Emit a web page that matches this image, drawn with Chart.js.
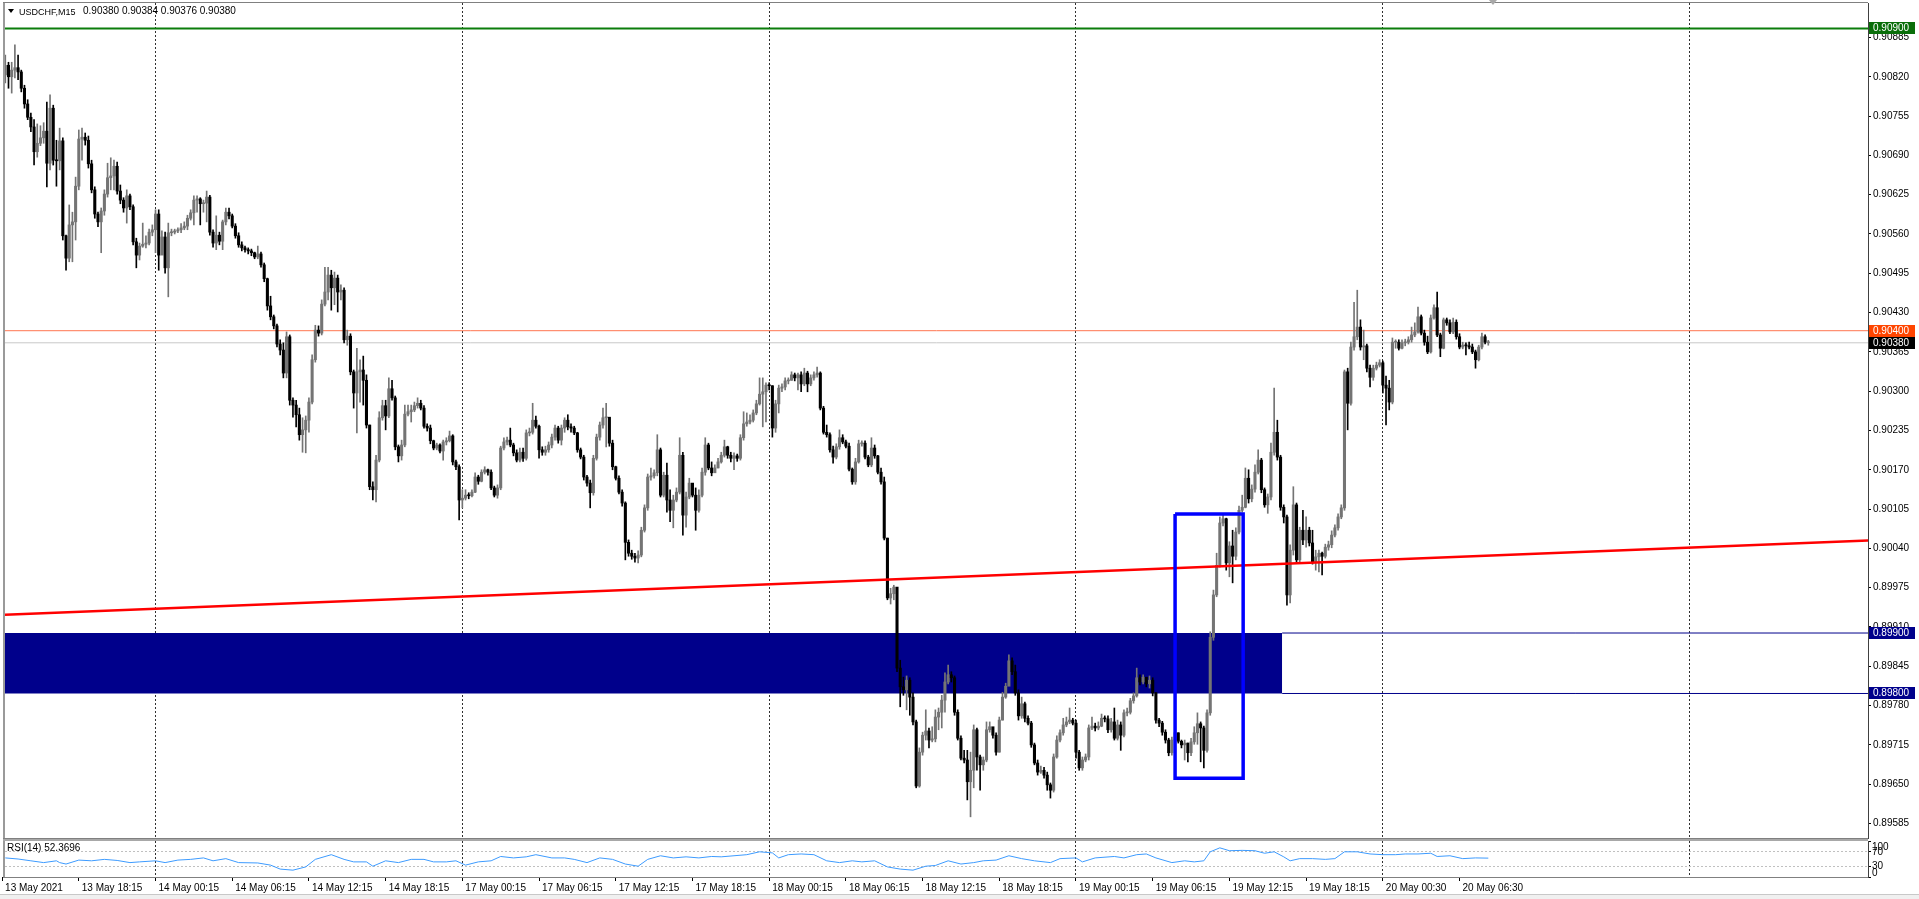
<!DOCTYPE html>
<html><head><meta charset="utf-8">
<script src="https://cdn.jsdelivr.net/npm/chart.js@4.4.1/dist/chart.umd.min.js"></script>
<style>
html,body{margin:0;padding:0;background:#fff;width:1919px;height:899px;overflow:hidden;font-family:"Liberation Sans",Arial,sans-serif;}
#main{position:absolute;left:0;top:0;}
#rsi{position:absolute;left:0;top:839px;}
.txt{position:absolute;color:#000;white-space:pre;z-index:3;line-height:12px;}
#tri{position:absolute;left:8px;top:9px;width:0;height:0;border-left:3.5px solid transparent;border-right:3.5px solid transparent;border-top:4px solid #000;z-index:3;}
#shift{position:absolute;left:1489px;top:0;width:0;height:0;border-left:4px solid transparent;border-right:4px solid transparent;border-top:5px solid #a8a8a8;z-index:3;}
#bottombar{position:absolute;left:0;top:894px;width:1919px;height:5px;background:#f0f0f0;border-top:1px solid #c8c8c8;z-index:3;}
</style></head>
<body>
<canvas id="main" width="1919" height="839"></canvas>
<canvas id="rsi" width="1919" height="60"></canvas>
<div id="tri"></div>
<div class="txt" style="left:19px;top:6px;font-size:9px;">USDCHF,M15</div>
<div class="txt" style="left:83px;top:5px;font-size:10px;">0.90380 0.90384 0.90376 0.90380</div>
<div class="txt" style="left:7px;top:842px;font-size:10px;">RSI(14) 52.3696</div>
<div id="shift"></div>
<div id="bottombar"></div>
<script>
// ---------- DATA (USDCHF M15, bar index 0 = first visible bar) ----------
const opens = [
0.90831,0.90823,0.90839,0.90820,0.90831,0.90835,0.90828,0.90801,0.90775,0.90753,
0.90737,0.90696,0.90710,0.90719,0.90730,0.90677,0.90768,0.90682,0.90681,0.90714,
0.90557,0.90520,0.90575,0.90580,0.90639,0.90717,0.90720,0.90715,0.90676,0.90633,
0.90593,0.90580,0.90598,0.90626,0.90653,0.90656,0.90672,0.90631,0.90616,0.90603,
0.90623,0.90605,0.90547,0.90525,0.90540,0.90543,0.90545,0.90563,0.90567,0.90593,
0.90525,0.90555,0.90504,0.90562,0.90563,0.90565,0.90567,0.90570,0.90573,0.90586,
0.90595,0.90616,0.90618,0.90610,0.90611,0.90621,0.90563,0.90545,0.90558,0.90548,
0.90580,0.90596,0.90590,0.90573,0.90557,0.90542,0.90537,0.90534,0.90532,0.90529,
0.90522,0.90527,0.90509,0.90486,0.90441,0.90423,0.90408,0.90378,0.90368,0.90330,
0.90390,0.90285,0.90277,0.90261,0.90228,0.90236,0.90252,0.90282,0.90352,0.90401,
0.90396,0.90444,0.90464,0.90492,0.90471,0.90487,0.90464,0.90467,0.90385,0.90391,
0.90332,0.90297,0.90332,0.90335,0.90318,0.90244,0.90142,0.90137,0.90186,0.90256,
0.90276,0.90259,0.90304,0.90289,0.90208,0.90193,0.90211,0.90262,0.90266,0.90269,
0.90276,0.90280,0.90272,0.90242,0.90239,0.90218,0.90206,0.90211,0.90201,0.90216,
0.90218,0.90226,0.90183,0.90175,0.90120,0.90123,0.90128,0.90127,0.90133,0.90158,
0.90151,0.90166,0.90170,0.90166,0.90140,0.90128,0.90140,0.90206,0.90216,0.90219,
0.90211,0.90198,0.90186,0.90199,0.90189,0.90231,0.90232,0.90252,0.90242,0.90203,
0.90199,0.90203,0.90211,0.90224,0.90239,0.90219,0.90239,0.90252,0.90241,0.90239,
0.90231,0.90203,0.90191,0.90158,0.90148,0.90132,0.90189,0.90224,0.90244,0.90256,
0.90257,0.90214,0.90175,0.90156,0.90133,0.90115,0.90050,0.90032,0.90027,0.90024,
0.90029,0.90070,0.90107,0.90158,0.90160,0.90165,0.90203,0.90128,0.90161,0.90120,
0.90103,0.90120,0.90133,0.90194,0.90095,0.90125,0.90148,0.90128,0.90103,0.90128,
0.90166,0.90211,0.90173,0.90165,0.90173,0.90183,0.90194,0.90208,0.90194,0.90189,
0.90193,0.90189,0.90223,0.90246,0.90249,0.90252,0.90264,0.90279,0.90295,0.90299,
0.90310,0.90309,0.90239,0.90279,0.90305,0.90307,0.90317,0.90318,0.90327,0.90322,
0.90327,0.90312,0.90330,0.90312,0.90322,0.90327,0.90330,0.90272,0.90232,0.90228,
0.90203,0.90191,0.90208,0.90223,0.90216,0.90209,0.90171,0.90150,0.90183,0.90213,
0.90214,0.90191,0.90178,0.90206,0.90193,0.90166,0.90150,0.90057,0.89958,0.89965,
0.89976,0.89842,0.89811,0.89806,0.89822,0.89794,0.89753,0.89647,0.89703,0.89731,
0.89738,0.89723,0.89725,0.89761,0.89769,0.89789,0.89819,0.89831,0.89826,0.89769,
0.89726,0.89693,0.89690,0.89654,0.89673,0.89740,0.89695,0.89682,0.89690,0.89740,
0.89745,0.89731,0.89703,0.89756,0.89794,0.89812,0.89854,0.89836,0.89801,0.89763,
0.89783,0.89759,0.89751,0.89715,0.89685,0.89670,0.89673,0.89665,0.89649,0.89640,
0.89695,0.89723,0.89735,0.89748,0.89753,0.89756,0.89751,0.89703,0.89677,0.89690,
0.89695,0.89743,0.89746,0.89743,0.89746,0.89759,0.89758,0.89740,0.89753,0.89726,
0.89748,0.89731,0.89768,0.89769,0.89788,0.89796,0.89826,0.89819,0.89827,0.89816,
0.89822,0.89801,0.89756,0.89751,0.89736,0.89723,0.89702,0.89723,0.89735,0.89721,
0.89715,0.89718,0.89702,0.89720,0.89735,0.89750,0.89743,0.89706,0.89768,0.89893,
0.89963,0.90012,0.90082,0.90089,0.90016,0.90044,0.90027,0.90067,0.90103,0.90108,
0.90156,0.90122,0.90138,0.90166,0.90186,0.90137,0.90112,0.90125,0.90199,0.90232,
0.90191,0.90108,0.90092,0.89963,0.90037,0.90112,0.90021,0.90070,0.90054,0.90070,
0.90049,0.90017,0.90026,0.90032,0.90027,0.90042,0.90046,0.90062,0.90074,0.90092,
0.90107,0.90332,0.90280,0.90373,0.90390,0.90406,0.90373,0.90375,0.90338,0.90323,
0.90338,0.90343,0.90347,0.90310,0.90305,0.90282,0.90381,0.90381,0.90371,0.90380,
0.90381,0.90385,0.90393,0.90398,0.90423,0.90396,0.90381,0.90365,0.90421,0.90438,
0.90393,0.90371,0.90418,0.90413,0.90398,0.90414,0.90390,0.90373,0.90376,0.90375,
0.90373,0.90365,0.90352,0.90373,0.90390,0.90380];
const highs = [
0.90844,0.90856,0.90844,0.90844,0.90873,0.90856,0.90831,0.90806,0.90782,0.90760,
0.90749,0.90742,0.90739,0.90744,0.90778,0.90790,0.90773,0.90715,0.90735,0.90719,
0.90558,0.90608,0.90596,0.90654,0.90732,0.90735,0.90727,0.90722,0.90682,0.90638,
0.90596,0.90603,0.90633,0.90677,0.90686,0.90682,0.90679,0.90641,0.90620,0.90633,
0.90626,0.90608,0.90553,0.90545,0.90578,0.90557,0.90568,0.90575,0.90600,0.90600,
0.90565,0.90563,0.90578,0.90568,0.90568,0.90570,0.90577,0.90580,0.90591,0.90600,
0.90623,0.90623,0.90620,0.90616,0.90631,0.90624,0.90567,0.90590,0.90563,0.90583,
0.90603,0.90603,0.90593,0.90577,0.90562,0.90547,0.90540,0.90537,0.90535,0.90530,
0.90540,0.90530,0.90512,0.90487,0.90457,0.90426,0.90411,0.90385,0.90380,0.90398,
0.90393,0.90289,0.90285,0.90272,0.90256,0.90259,0.90289,0.90360,0.90409,0.90408,
0.90451,0.90505,0.90505,0.90500,0.90497,0.90492,0.90476,0.90471,0.90401,0.90395,
0.90335,0.90371,0.90352,0.90358,0.90327,0.90244,0.90150,0.90194,0.90266,0.90285,
0.90285,0.90322,0.90318,0.90292,0.90211,0.90219,0.90277,0.90277,0.90277,0.90282,
0.90289,0.90285,0.90276,0.90246,0.90244,0.90219,0.90214,0.90213,0.90219,0.90223,
0.90234,0.90228,0.90186,0.90178,0.90137,0.90137,0.90132,0.90137,0.90165,0.90161,
0.90170,0.90175,0.90171,0.90170,0.90143,0.90145,0.90209,0.90223,0.90224,0.90239,
0.90214,0.90203,0.90206,0.90206,0.90236,0.90239,0.90280,0.90259,0.90244,0.90208,
0.90209,0.90216,0.90229,0.90244,0.90242,0.90244,0.90256,0.90261,0.90246,0.90242,
0.90232,0.90206,0.90194,0.90161,0.90153,0.90194,0.90229,0.90249,0.90272,0.90280,
0.90256,0.90219,0.90176,0.90160,0.90137,0.90117,0.90054,0.90037,0.90032,0.90036,
0.90075,0.90112,0.90163,0.90173,0.90170,0.90228,0.90206,0.90166,0.90181,0.90137,
0.90128,0.90140,0.90223,0.90199,0.90133,0.90156,0.90145,0.90140,0.90137,0.90173,
0.90223,0.90214,0.90183,0.90178,0.90189,0.90199,0.90219,0.90209,0.90199,0.90198,
0.90196,0.90228,0.90266,0.90264,0.90261,0.90269,0.90285,0.90322,0.90322,0.90314,
0.90314,0.90309,0.90285,0.90310,0.90312,0.90322,0.90322,0.90332,0.90330,0.90330,
0.90332,0.90338,0.90333,0.90327,0.90332,0.90340,0.90332,0.90275,0.90244,0.90231,
0.90209,0.90213,0.90236,0.90228,0.90219,0.90214,0.90173,0.90189,0.90219,0.90218,
0.90218,0.90194,0.90223,0.90211,0.90194,0.90173,0.90158,0.90057,0.89974,0.89979,
0.89974,0.89855,0.89827,0.89829,0.89826,0.89801,0.89756,0.89710,0.89736,0.89773,
0.89743,0.89745,0.89773,0.89776,0.89797,0.89834,0.89847,0.89836,0.89829,0.89773,
0.89730,0.89706,0.89706,0.89703,0.89748,0.89743,0.89698,0.89695,0.89753,0.89753,
0.89743,0.89735,0.89761,0.89802,0.89817,0.89864,0.89859,0.89847,0.89806,0.89794,
0.89786,0.89763,0.89754,0.89718,0.89690,0.89680,0.89678,0.89670,0.89652,0.89700,
0.89730,0.89740,0.89759,0.89761,0.89776,0.89759,0.89756,0.89706,0.89695,0.89700,
0.89748,0.89761,0.89751,0.89753,0.89766,0.89763,0.89763,0.89759,0.89776,0.89756,
0.89753,0.89773,0.89776,0.89792,0.89801,0.89842,0.89831,0.89831,0.89826,0.89829,
0.89826,0.89802,0.89759,0.89754,0.89740,0.89726,0.89728,0.89740,0.89735,0.89723,
0.89723,0.89718,0.89726,0.89745,0.89768,0.89753,0.89746,0.89773,0.89902,0.89971,
0.90032,0.90092,0.90097,0.90090,0.90051,0.90070,0.90074,0.90110,0.90128,0.90173,
0.90170,0.90145,0.90178,0.90203,0.90189,0.90140,0.90130,0.90214,0.90305,0.90252,
0.90194,0.90112,0.90095,0.90046,0.90142,0.90115,0.90075,0.90103,0.90092,0.90075,
0.90070,0.90037,0.90037,0.90034,0.90047,0.90052,0.90069,0.90079,0.90097,0.90112,
0.90335,0.90338,0.90381,0.90447,0.90467,0.90418,0.90401,0.90378,0.90343,0.90343,
0.90348,0.90352,0.90350,0.90325,0.90318,0.90388,0.90385,0.90385,0.90385,0.90386,
0.90390,0.90406,0.90413,0.90439,0.90426,0.90401,0.90391,0.90426,0.90443,0.90464,
0.90396,0.90421,0.90421,0.90418,0.90421,0.90418,0.90395,0.90381,0.90380,0.90381,
0.90378,0.90368,0.90376,0.90396,0.90393,0.90384];
const lows = [
0.90806,0.90810,0.90801,0.90793,0.90818,0.90815,0.90795,0.90768,0.90749,0.90729,
0.90674,0.90687,0.90706,0.90710,0.90638,0.90666,0.90674,0.90639,0.90666,0.90550,
0.90500,0.90514,0.90514,0.90550,0.90633,0.90682,0.90707,0.90669,0.90628,0.90586,
0.90572,0.90529,0.90591,0.90621,0.90633,0.90633,0.90626,0.90610,0.90596,0.90578,
0.90600,0.90542,0.90504,0.90517,0.90538,0.90537,0.90542,0.90557,0.90529,0.90500,
0.90534,0.90495,0.90456,0.90557,0.90560,0.90562,0.90562,0.90567,0.90567,0.90583,
0.90575,0.90596,0.90575,0.90596,0.90580,0.90558,0.90538,0.90534,0.90542,0.90534,
0.90575,0.90585,0.90570,0.90553,0.90538,0.90532,0.90530,0.90527,0.90524,0.90519,
0.90519,0.90505,0.90481,0.90434,0.90418,0.90403,0.90373,0.90360,0.90322,0.90322,
0.90277,0.90257,0.90241,0.90219,0.90199,0.90198,0.90232,0.90279,0.90348,0.90391,
0.90393,0.90441,0.90451,0.90434,0.90443,0.90431,0.90451,0.90380,0.90376,0.90327,
0.90272,0.90231,0.90282,0.90277,0.90239,0.90137,0.90120,0.90117,0.90183,0.90252,
0.90236,0.90256,0.90285,0.90203,0.90183,0.90186,0.90208,0.90259,0.90249,0.90266,
0.90272,0.90269,0.90239,0.90234,0.90213,0.90203,0.90203,0.90198,0.90186,0.90211,
0.90216,0.90178,0.90170,0.90087,0.90107,0.90120,0.90122,0.90125,0.90132,0.90146,
0.90150,0.90163,0.90161,0.90137,0.90125,0.90123,0.90137,0.90203,0.90211,0.90208,
0.90193,0.90183,0.90183,0.90184,0.90186,0.90226,0.90229,0.90239,0.90189,0.90194,
0.90194,0.90199,0.90206,0.90219,0.90214,0.90211,0.90232,0.90236,0.90232,0.90228,
0.90199,0.90188,0.90153,0.90143,0.90107,0.90128,0.90186,0.90219,0.90239,0.90208,
0.90209,0.90170,0.90153,0.90130,0.90110,0.90021,0.90027,0.90022,0.90017,0.90016,
0.90026,0.90067,0.90103,0.90153,0.90156,0.90160,0.90125,0.90125,0.90100,0.90084,
0.90074,0.90117,0.90130,0.90062,0.90075,0.90122,0.90125,0.90070,0.90100,0.90125,
0.90161,0.90170,0.90160,0.90166,0.90173,0.90181,0.90191,0.90189,0.90183,0.90170,
0.90184,0.90186,0.90219,0.90242,0.90246,0.90249,0.90261,0.90277,0.90241,0.90249,
0.90302,0.90224,0.90232,0.90264,0.90299,0.90302,0.90312,0.90318,0.90317,0.90302,
0.90299,0.90309,0.90299,0.90309,0.90318,0.90323,0.90269,0.90229,0.90224,0.90199,
0.90181,0.90188,0.90204,0.90213,0.90206,0.90168,0.90146,0.90146,0.90181,0.90209,
0.90188,0.90175,0.90175,0.90189,0.90163,0.90146,0.90054,0.89955,0.89948,0.89955,
0.89836,0.89778,0.89797,0.89773,0.89764,0.89748,0.89644,0.89645,0.89698,0.89723,
0.89710,0.89720,0.89720,0.89740,0.89743,0.89769,0.89816,0.89819,0.89764,0.89723,
0.89690,0.89685,0.89624,0.89596,0.89644,0.89673,0.89640,0.89673,0.89687,0.89736,
0.89726,0.89698,0.89703,0.89756,0.89792,0.89816,0.89831,0.89797,0.89756,0.89759,
0.89753,0.89748,0.89711,0.89682,0.89665,0.89668,0.89660,0.89640,0.89627,0.89637,
0.89693,0.89720,0.89731,0.89745,0.89750,0.89748,0.89693,0.89673,0.89673,0.89687,
0.89690,0.89740,0.89738,0.89740,0.89745,0.89753,0.89735,0.89736,0.89723,0.89723,
0.89706,0.89728,0.89763,0.89766,0.89784,0.89794,0.89814,0.89816,0.89811,0.89809,
0.89796,0.89751,0.89745,0.89731,0.89718,0.89697,0.89698,0.89710,0.89718,0.89710,
0.89690,0.89687,0.89697,0.89716,0.89716,0.89687,0.89677,0.89703,0.89764,0.89888,
0.89960,0.90009,0.90077,0.90004,0.89993,0.89983,0.90021,0.90064,0.90100,0.90107,
0.90115,0.90117,0.90133,0.90163,0.90132,0.90108,0.90098,0.90120,0.90194,0.90186,
0.90103,0.90082,0.89946,0.89950,0.90029,0.90017,0.90017,0.90046,0.90042,0.90044,
0.90014,0.90004,0.90001,0.89996,0.90024,0.90037,0.90041,0.90059,0.90070,0.90089,
0.90103,0.90236,0.90277,0.90368,0.90385,0.90368,0.90352,0.90332,0.90307,0.90318,
0.90335,0.90340,0.90297,0.90244,0.90269,0.90279,0.90371,0.90368,0.90370,0.90375,
0.90378,0.90381,0.90390,0.90396,0.90393,0.90376,0.90362,0.90363,0.90419,0.90390,
0.90357,0.90370,0.90409,0.90395,0.90395,0.90386,0.90370,0.90370,0.90360,0.90370,
0.90362,0.90338,0.90350,0.90370,0.90378,0.90376];
const closes = [
0.90823,0.90839,0.90820,0.90831,0.90835,0.90828,0.90801,0.90775,0.90753,0.90737,
0.90696,0.90710,0.90719,0.90730,0.90677,0.90768,0.90682,0.90681,0.90714,0.90557,
0.90520,0.90575,0.90580,0.90639,0.90717,0.90720,0.90715,0.90676,0.90633,0.90593,
0.90580,0.90598,0.90626,0.90653,0.90656,0.90672,0.90631,0.90616,0.90603,0.90623,
0.90605,0.90547,0.90525,0.90540,0.90543,0.90545,0.90563,0.90567,0.90593,0.90525,
0.90555,0.90504,0.90562,0.90563,0.90565,0.90567,0.90570,0.90573,0.90586,0.90595,
0.90616,0.90618,0.90610,0.90611,0.90621,0.90563,0.90545,0.90558,0.90548,0.90580,
0.90596,0.90590,0.90573,0.90557,0.90542,0.90537,0.90534,0.90532,0.90529,0.90522,
0.90527,0.90509,0.90486,0.90441,0.90423,0.90408,0.90378,0.90368,0.90330,0.90390,
0.90285,0.90277,0.90261,0.90228,0.90236,0.90252,0.90282,0.90352,0.90401,0.90396,
0.90444,0.90464,0.90492,0.90471,0.90487,0.90464,0.90467,0.90385,0.90391,0.90332,
0.90297,0.90332,0.90335,0.90318,0.90244,0.90142,0.90137,0.90186,0.90256,0.90276,
0.90259,0.90304,0.90289,0.90208,0.90193,0.90211,0.90262,0.90266,0.90269,0.90276,
0.90280,0.90272,0.90242,0.90239,0.90218,0.90206,0.90211,0.90201,0.90216,0.90218,
0.90226,0.90183,0.90175,0.90120,0.90123,0.90128,0.90127,0.90133,0.90158,0.90151,
0.90166,0.90170,0.90166,0.90140,0.90128,0.90140,0.90206,0.90216,0.90219,0.90211,
0.90198,0.90186,0.90199,0.90189,0.90231,0.90232,0.90252,0.90242,0.90203,0.90199,
0.90203,0.90211,0.90224,0.90239,0.90219,0.90239,0.90252,0.90241,0.90239,0.90231,
0.90203,0.90191,0.90158,0.90148,0.90132,0.90189,0.90224,0.90244,0.90256,0.90257,
0.90214,0.90175,0.90156,0.90133,0.90115,0.90050,0.90032,0.90027,0.90024,0.90029,
0.90070,0.90107,0.90158,0.90160,0.90165,0.90203,0.90128,0.90161,0.90120,0.90103,
0.90120,0.90133,0.90194,0.90095,0.90125,0.90148,0.90128,0.90103,0.90128,0.90166,
0.90211,0.90173,0.90165,0.90173,0.90183,0.90194,0.90208,0.90194,0.90189,0.90193,
0.90189,0.90223,0.90246,0.90249,0.90252,0.90264,0.90279,0.90295,0.90299,0.90310,
0.90309,0.90239,0.90279,0.90305,0.90307,0.90317,0.90318,0.90327,0.90322,0.90327,
0.90312,0.90330,0.90312,0.90322,0.90327,0.90330,0.90272,0.90232,0.90228,0.90203,
0.90191,0.90208,0.90223,0.90216,0.90209,0.90171,0.90150,0.90183,0.90213,0.90214,
0.90191,0.90178,0.90206,0.90193,0.90166,0.90150,0.90057,0.89958,0.89965,0.89976,
0.89842,0.89811,0.89806,0.89822,0.89794,0.89753,0.89647,0.89703,0.89731,0.89738,
0.89723,0.89725,0.89761,0.89769,0.89789,0.89819,0.89831,0.89826,0.89769,0.89726,
0.89693,0.89690,0.89654,0.89673,0.89740,0.89695,0.89682,0.89690,0.89740,0.89745,
0.89731,0.89703,0.89756,0.89794,0.89812,0.89854,0.89836,0.89801,0.89763,0.89783,
0.89759,0.89751,0.89715,0.89685,0.89670,0.89673,0.89665,0.89649,0.89640,0.89695,
0.89723,0.89735,0.89748,0.89753,0.89756,0.89751,0.89703,0.89677,0.89690,0.89695,
0.89743,0.89746,0.89743,0.89746,0.89759,0.89758,0.89740,0.89753,0.89726,0.89748,
0.89731,0.89768,0.89769,0.89788,0.89796,0.89826,0.89819,0.89827,0.89816,0.89822,
0.89801,0.89756,0.89751,0.89736,0.89723,0.89702,0.89723,0.89735,0.89721,0.89715,
0.89718,0.89702,0.89720,0.89735,0.89750,0.89743,0.89706,0.89768,0.89893,0.89963,
0.90012,0.90082,0.90089,0.90016,0.90044,0.90027,0.90067,0.90103,0.90108,0.90156,
0.90122,0.90138,0.90166,0.90186,0.90137,0.90112,0.90125,0.90199,0.90232,0.90191,
0.90108,0.90092,0.89963,0.90037,0.90112,0.90021,0.90070,0.90054,0.90070,0.90049,
0.90017,0.90026,0.90032,0.90027,0.90042,0.90046,0.90062,0.90074,0.90092,0.90107,
0.90332,0.90280,0.90373,0.90390,0.90406,0.90373,0.90375,0.90338,0.90323,0.90338,
0.90343,0.90347,0.90310,0.90305,0.90282,0.90381,0.90381,0.90371,0.90380,0.90381,
0.90385,0.90393,0.90398,0.90423,0.90396,0.90381,0.90365,0.90421,0.90438,0.90393,
0.90371,0.90418,0.90413,0.90398,0.90414,0.90390,0.90373,0.90376,0.90375,0.90373,
0.90365,0.90352,0.90373,0.90390,0.90381,0.90380];

// price axis tick labels
const priceTicks = [0.89585,0.89650,0.89715,0.89780,0.89845,0.89910,0.89975,0.90040,0.90105,0.90170,
  0.90235,0.90300,0.90365,0.90430,0.90495,0.90560,0.90625,0.90690,0.90755,0.90820,0.90885];
// time axis labels (bar index of each label)
const labelBars = [0,24,48,72,96,120,144,168,192,216,240,264,288,312,336,360,384,408,432,456];
const xLabels = ['13 May 2021','13 May 18:15','14 May 00:15','14 May 06:15','14 May 12:15','14 May 18:15',
  '17 May 00:15','17 May 06:15','17 May 12:15','17 May 18:15','18 May 00:15','18 May 06:15','18 May 12:15',
  '18 May 18:15','19 May 00:15','19 May 06:15','19 May 12:15','19 May 18:15','20 May 00:30','20 May 06:30'];
const gridBars = [48,144,240,336,432,528];
// horizontal levels: green, orange, bid, zone top, zone bottom
const levelPrices = [0.90900, 0.90400, 0.90380, 0.89900, 0.89800];
const levelTagColors = ['#0a6e0a','#ff4500','#000000','#00008b','#00008b'];
// supply/demand zone (bar range, price range)
const zoneBars = [-3, 400.5];
const zonePrices = [0.89900, 0.89800];
// red trend line anchors
const trendBars = [0, 584];
const trendPrices = [0.89930, 0.90053];
// blue box
const boxBars = [367, 388.3];
const boxPrices = [0.90097, 0.89660];
// RSI(14) readings
const rsiBars = [1,5,9,13,17,18,20,24,28,32,36,40,43,48,51,55,59,63,66,70,74,80,84,87,91,95,98,
 103,107,110,114,116,120,124,128,132,135,139,142,145,149,153,156,160,164,167,172,176,179,183,187,191,195,199,202,206,210,
 214,218,222,225,229,233,237,241,243,246,250,254,258,262,266,269,273,277,281,285,289,292,296,300,304,307,311,315,319,323,
 328,331,336,338,342,348,351,355,358,361,366,370,373,376,378,381,384,388,392,395,398,401,403,406,410,414,417,420,424,428,
 432,436,439,443,447,449,453,457,461,465];
const rsiValues = [53,50,45,40,45,40,36,47,45,49,46,40,42,45,40,47,49,53,45,51,40,39,33,22,19,28,49,
 62,49,42,42,30,45,40,49,49,42,42,45,33,42,45,57,53,56,62,53,53,49,40,53,49,36,30,49,59,53,
 56,53,57,56,59,62,70,67,53,62,64,62,45,40,45,42,45,28,22,19,30,32,45,36,40,45,47,59,51,45,
 40,51,53,42,53,57,53,62,64,53,40,45,42,45,70,81,73,74,73,66,70,56,45,51,51,49,51,70,70,64,
 62,62,64,64,66,57,59,51,53,52.4];
const rsiLevels = [0,30,70,100];

// ---------- VIEW ----------
const X_MIN = 0.907, X_MAX = 583.8;
const Y_MIN = 0.89561, Y_MAX = 0.90942;
const FONT = 'Liberation Sans';
const BULL = '#747474', BEAR = '#000000';

const bull = closes.map((c, i) => c >= opens[i]);
const bodies = closes.map((c, i) => ({x: i, y: [opens[i], c]}));
const wicks = highs.map((h, i) => ({x: i, y: [lows[i], h]}));
const candleColors = bull.map(b => b ? BULL : BEAR);

function hLine(p, x0, x1, color, w) {
  return {type:'line', data:[{x:x0, y:p},{x:x1, y:p}], borderColor:color, borderWidth:w,
          pointRadius:0, fill:false, order:9};
}

const mainDecor = {
  id:'mainDecor',
  afterDraw(chart) {
    const ctx = chart.ctx, ca = chart.chartArea, ys = chart.scales.y;
    ctx.save();
    ctx.fillStyle = '#9a9a9a';
    ctx.fillRect(3, ca.top - 1, 2, ca.bottom - ca.top + 2);
    ctx.fillStyle = '#808080';
    ctx.fillRect(3, ca.top - 1, ca.right - 3, 1);
    ctx.fillRect(3, ca.bottom, ca.right - 3, 1);
    ctx.font = '10px "' + FONT + '"';
    ctx.textBaseline = 'middle';
    ctx.textAlign = 'left';
    levelPrices.forEach((p, i) => {
      const y = Math.round(ys.getPixelForValue(p));
      ctx.fillStyle = levelTagColors[i];
      ctx.fillRect(ca.right + 1, y - 6, 46, 12);
      ctx.fillStyle = '#ffffff';
      ctx.fillText(p.toFixed(5), ca.right + 5, y + 0.5);
    });
    ctx.restore();
  }
};

new Chart(document.getElementById('main'), {
  type:'bar',
  data:{ datasets:[
    {type:'line', data:[{x:zoneBars[0], y:zonePrices[0]},{x:zoneBars[1], y:zonePrices[0]}],
      borderColor:'transparent', borderWidth:0, pointRadius:0, fill:'+1', backgroundColor:'#00008b', order:10},
    {type:'line', data:[{x:zoneBars[0], y:zonePrices[1]},{x:zoneBars[1], y:zonePrices[1]}],
      borderColor:'transparent', borderWidth:0, pointRadius:0, fill:false, order:10},
    hLine(levelPrices[0], X_MIN, X_MAX, '#0b7d0b', 2),
    hLine(levelPrices[1], X_MIN, X_MAX, '#ff7650', 1),
    hLine(levelPrices[2], X_MIN, X_MAX, '#c8c8c8', 1),
    hLine(levelPrices[3], zoneBars[1], X_MAX, '#00008b', 1),
    hLine(levelPrices[4], zoneBars[1], X_MAX, '#00008b', 1),
    {type:'bar', data:wicks, backgroundColor:candleColors, barThickness:1, grouped:false, borderWidth:0, order:6},
    {type:'bar', data:bodies, backgroundColor:candleColors, barThickness:2.4, grouped:false, borderWidth:0, minBarLength:1, order:5},
    {type:'line', data:[{x:trendBars[0], y:trendPrices[0]},{x:trendBars[1], y:trendPrices[1]}],
      borderColor:'#ff0000', borderWidth:2.5, pointRadius:0, fill:false, order:2},
    {type:'line', data:[{x:boxBars[0], y:boxPrices[0]},{x:boxBars[1], y:boxPrices[0]},{x:boxBars[1], y:boxPrices[1]},
      {x:boxBars[0], y:boxPrices[1]},{x:boxBars[0], y:boxPrices[0]}],
      borderColor:'#0000ff', borderWidth:3.5, borderJoinStyle:'miter', pointRadius:0, fill:false, order:1}
  ]},
  options:{
    responsive:false, animation:false, devicePixelRatio:1, events:[],
    layout:{padding:{left:5, top:3, right:0, bottom:1}},
    plugins:{legend:{display:false}, tooltip:{enabled:false}},
    scales:{
      x:{type:'linear', min:X_MIN, max:X_MAX, offset:false, position:'bottom',
        afterBuildTicks:s => { s.ticks = gridBars.map(v => ({value:v})); },
        afterFit:s => { s.height = 0; s.paddingLeft = 0; s.paddingRight = 0; },
        ticks:{display:false},
        grid:{offset:false, color:'#303030', lineWidth:1, drawTicks:false, drawOnChartArea:true},
        border:{display:false, dash:[2,2]}},
      y:{type:'linear', position:'right', min:Y_MIN, max:Y_MAX,
        afterBuildTicks:s => { s.ticks = priceTicks.map(v => ({value:v})); },
        afterFit:s => { s.width = 51; s.paddingTop = 0; s.paddingBottom = 0; },
        ticks:{callback:v => Number(v).toFixed(5), font:{family:FONT, size:10}, color:'#000', padding:2, autoSkip:false},
        grid:{drawOnChartArea:false, drawTicks:true, tickLength:3, tickColor:'#000'},
        border:{display:true, color:'#404040'}}
    }
  },
  plugins:[mainDecor]
});

// ---------- RSI panel ----------
const rsiDecor = {
  id:'rsiDecor',
  afterDraw(chart) {
    const ctx = chart.ctx, ca = chart.chartArea, ys = chart.scales.y;
    ctx.save();
    ctx.fillStyle = '#a8a8a8';
    ctx.fillRect(3, 0, ca.right - 3, 2);
    ctx.fillStyle = '#9a9a9a';
    ctx.fillRect(3, ca.top, 2, ca.bottom - ca.top);
    ctx.fillStyle = '#808080';
    ctx.fillRect(3, ca.bottom, ca.right - 3, 1);
    ctx.font = '10px "' + FONT + '"';
    ctx.textBaseline = 'middle';
    ctx.fillStyle = '#000';
    rsiLevels.forEach(v => {
      let y = ys.getPixelForValue(v);
      y = Math.min(Math.max(y, ca.top + 6), ca.bottom - 4);
      ctx.fillText(String(v), ca.right + 4, y);
    });
    ctx.restore();
  }
};

new Chart(document.getElementById('rsi'), {
  type:'line',
  data:{ datasets:[
    {data:rsiBars.map((b, i) => ({x:b, y:rsiValues[i]})), borderColor:'#3d9bff', borderWidth:1,
     pointRadius:0, fill:false, tension:0}
  ]},
  options:{
    responsive:false, animation:false, devicePixelRatio:1, events:[],
    layout:{padding:{left:5, top:2, right:0, bottom:0}},
    plugins:{legend:{display:false}, tooltip:{enabled:false}},
    scales:{
      x:{type:'linear', min:X_MIN, max:X_MAX, offset:false, position:'bottom',
        afterBuildTicks:s => { s.ticks = labelBars.map(v => ({value:v})); },
        afterFit:s => { s.height = 22; s.paddingLeft = 0; s.paddingRight = 0; },
        ticks:{callback:(v, i) => xLabels[i], align:'start', labelOffset:3, padding:1, maxRotation:0,
          autoSkip:false, font:{family:FONT, size:10}, color:'#000'},
        grid:{offset:false, drawOnChartArea:false, drawTicks:true, tickLength:4, tickColor:'#000'},
        border:{display:false}},
      xg:{type:'linear', min:X_MIN, max:X_MAX, offset:false, position:'bottom',
        afterBuildTicks:s => { s.ticks = gridBars.map(v => ({value:v})); },
        afterFit:s => { s.height = 0; s.paddingLeft = 0; s.paddingRight = 0; },
        ticks:{display:false},
        grid:{offset:false, color:'#303030', lineWidth:1, drawTicks:false, drawOnChartArea:true},
        border:{display:false, dash:[2,2]}},
      y:{type:'linear', position:'right', min:0, max:100,
        afterBuildTicks:s => { s.ticks = rsiLevels.map(v => ({value:v})); },
        afterFit:s => { s.width = 51; s.paddingTop = 0; s.paddingBottom = 0; },
        ticks:{display:false},
        grid:{drawOnChartArea:true, drawTicks:true, tickLength:3, tickColor:'#000',
          color:c => (c.tick && (c.tick.value === 30 || c.tick.value === 70)) ? '#c0c0c0' : 'transparent'},
        border:{display:true, color:'#404040', dash:[2,2]}}
    }
  },
  plugins:[rsiDecor]
});
</script>
</body></html>
